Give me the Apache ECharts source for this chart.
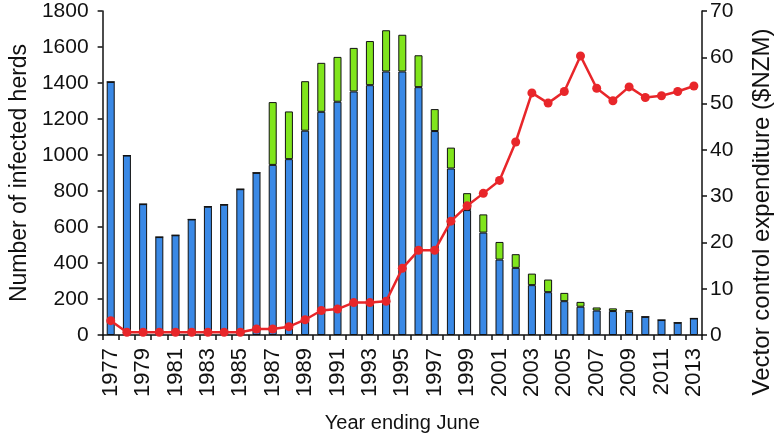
<!DOCTYPE html>
<html>
<head>
<meta charset="utf-8">
<script src="https://cdn.jsdelivr.net/npm/echarts@6/dist/echarts.min.js"></script>
<style>
  html, body { margin: 0; padding: 0; background: #fff; }
  #main { width: 776px; height: 440px; }
</style>
</head>
<body>
<div id="main"></div>
<script>
// years (year ending June)
var years = [];
for (var y = 1977; y <= 2013; y++) years.push(String(y));

// infected herds, lower (blue) part of each bar
var herdsBlue = [1406, 997, 727, 544, 554, 642, 713, 724, 810, 901,
  945, 977, 1135, 1240, 1296, 1353, 1388, 1464, 1464, 1377,
  1133, 925, 694, 569, 419, 373, 277, 238, 188, 157,
  136, 133, 130, 101, 83, 68, 92];

// infected herds, upper (green) part of each bar
var herdsGreen = [0, 0, 0, 0, 0, 0, 0, 0, 0, 0,
  349, 265, 275, 272, 249, 242, 245, 229, 204, 177,
  122, 116, 94, 101, 98, 76, 64, 70, 46, 27,
  17, 15, 8, 0, 0, 0, 0];

// vector control expenditure ($NZM)
var expenditure = [3.1, 0.6, 0.6, 0.6, 0.6, 0.6, 0.6, 0.6, 0.6, 1.3,
  1.3, 1.8, 3.3, 5.3, 5.6, 7.0, 7.0, 7.3, 14.4, 18.3,
  18.3, 24.6, 27.9, 30.6, 33.4, 41.7, 52.3, 50.1, 52.6, 60.3,
  53.3, 50.6, 53.6, 51.3, 51.7, 52.6, 53.8];

var font = 'Liberation Sans, Arial, sans-serif';
var axisLine = { show: true, lineStyle: { color: '#111', width: 1.5 } };
var axisTick = { show: true, length: 5, lineStyle: { color: '#111', width: 1.5 } };

var myChart = echarts.init(document.getElementById('main'));

var option = {
  animation: false,
  backgroundColor: '#fff',
  grid: { left: 97, right: 74, top: 11, bottom: 105 },
  xAxis: {
    type: 'category',
    data: years,
    boundaryGap: true,
    name: 'Year ending June',
    nameLocation: 'middle',
    nameGap: 78,
    nameTextStyle: { fontFamily: font, fontSize: 20, color: '#111' },
    axisLine: axisLine,
    axisTick: { show: true, interval: 0, length: 5, lineStyle: { color: '#111', width: 1.5 } },
    axisLabel: { interval: 1, rotate: 90, margin: 13, fontFamily: font, fontSize: 22, color: '#111' }
  },
  yAxis: [
    {
      type: 'value',
      min: 0, max: 1800, interval: 200,
      name: 'Number of infected herds',
      nameLocation: 'middle',
      nameGap: 70,
      nameTextStyle: { fontFamily: font, fontSize: 23, color: '#111' },
      axisLine: axisLine,
      axisTick: axisTick,
      splitLine: { show: false },
      axisLabel: {
        margin: 14, fontFamily: font, fontSize: 21, color: '#111',
        formatter: function (v) { return String(v); }
      }
    },
    {
      type: 'value',
      position: 'right',
      min: 0, max: 70, interval: 10,
      axisLine: axisLine,
      axisTick: axisTick,
      splitLine: { show: false },
      axisLabel: { margin: 8, fontFamily: font, fontSize: 21, color: '#111' }
    }
  ],
  graphic: [{
    type: 'text',
    x: 750,
    y: 212,
    rotation: Math.PI / 2,
    style: {
      text: 'Vector control expenditure ($NZM)',
      font: '24px ' + font,
      fill: '#111',
      align: 'center',
      verticalAlign: 'top'
    }
  }],
  series: [
    {
      name: 'herds',
      type: 'bar',
      stack: 'herds',
      data: herdsBlue,
      barWidth: 8,
      itemStyle: { color: '#3a89e6', borderColor: '#111', borderWidth: 1 }
    },
    {
      name: 'herds2',
      type: 'bar',
      stack: 'herds',
      data: herdsGreen,
      barWidth: 8,
      itemStyle: { color: '#80e51c', borderColor: '#111', borderWidth: 1 }
    },
    {
      name: 'expenditure',
      type: 'line',
      yAxisIndex: 1,
      data: expenditure,
      symbol: 'circle',
      symbolSize: 9,
      z: 5,
      lineStyle: { color: '#e8262a', width: 2.5 },
      itemStyle: { color: '#e8262a' }
    }
  ]
};

myChart.setOption(option);
</script>
</body>
</html>
